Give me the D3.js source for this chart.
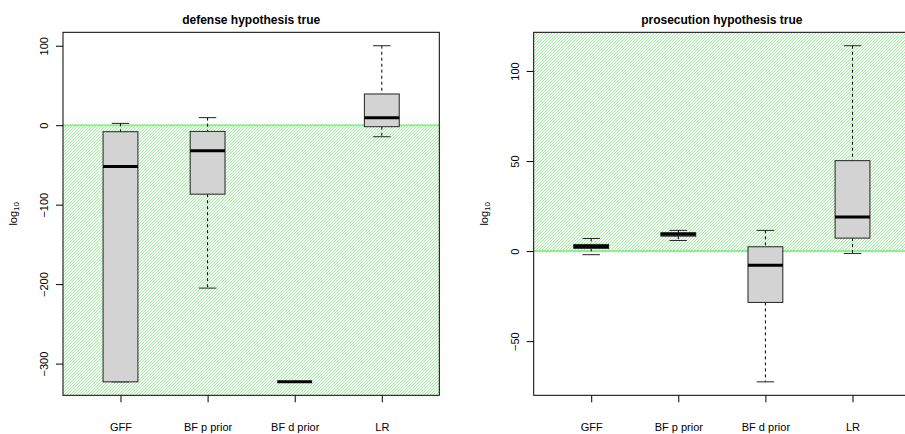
<!DOCTYPE html>
<html>
<head>
<meta charset="utf-8">
<script src="https://cdn.jsdelivr.net/npm/d3@7"></script>
<style>
  html, body { margin: 0; padding: 0; background: #fff; }
  svg { display: block; font-family: "Liberation Sans", Arial, Helvetica, sans-serif; }
</style>
</head>
<body>
<svg id="chart" width="905" height="434"></svg>
<script>
// Categories shared by both panels
const categories = ["GFF", "BF p prior", "BF d prior", "LR"];

// Box statistics (log10 scale) under the defense hypothesis
const defenseLow    = [-323, -205, -323, -14.5];
const defenseQ1     = [-323, -86.8, -323, -1.9];
const defenseMedian = [-52, -32, -323, 9.5];
const defenseQ3     = [-8.2, -7.8, -323, 39.3];
const defenseHigh   = [2.3, 9.5, -323, 100];
const defenseTicks  = [-300, -200, -100, 0, 100];

// Box statistics (log10 scale) under the prosecution hypothesis
const prosecutionLow    = [-2, 5.9, -72.6, -1.3];
const prosecutionQ1     = [1.5, 8.3, -28.5, 7.2];
const prosecutionMedian = [2.6, 9.3, -7.8, 18.9];
const prosecutionQ3     = [3.7, 10.2, 2.4, 50.2];
const prosecutionHigh   = [7, 11.5, 11.5, 114];
const prosecutionTicks  = [-50, 0, 50, 100];

const svg = d3.select("#chart");

// Fine diagonal hatch used to shade the region favouring the true hypothesis
const defs = svg.append("defs");
const pat = defs.append("pattern")
  .attr("id", "hatch")
  .attr("patternUnits", "userSpaceOnUse")
  .attr("width", 3).attr("height", 3);
pat.append("rect").attr("width", 3).attr("height", 3).attr("fill", "#ffffff");
pat.append("path")
  .attr("d", "M-1,1 L1,-1 M0,3 L3,0 M2,4 L4,2")
  .attr("stroke", "#9cee9c")
  .attr("stroke-width", 1);

const plotTop = 32.3, plotBottom = 395.3;

function panel(opts) {
  const { left, right, title, low, q1, med, q3, high, ticks, shadeAbove } = opts;
  const g = svg.append("g");

  const lo = d3.min(low), hi = d3.max(high);
  const pad = (hi - lo) * 0.04;
  const y = d3.scaleLinear().domain([lo - pad, hi + pad]).range([plotBottom, plotTop]);
  const x = d3.scaleLinear().domain([0.34, 4.66]).range([left, right]);

  // clip to plot region
  const clipId = "clip" + Math.round(left);
  defs.append("clipPath").attr("id", clipId)
    .append("rect").attr("x", left).attr("y", plotTop)
    .attr("width", right - left).attr("height", plotBottom - plotTop);

  const plot = g.append("g").attr("clip-path", `url(#${clipId})`);

  // shaded region
  const y0 = y(0);
  plot.append("rect")
    .attr("x", left)
    .attr("y", shadeAbove ? plotTop : y0)
    .attr("width", right - left)
    .attr("height", shadeAbove ? y0 - plotTop : plotBottom - y0)
    .attr("fill", "url(#hatch)");
  plot.append("line")
    .attr("x1", left).attr("x2", right)
    .attr("y1", y0).attr("y2", y0)
    .attr("stroke", "#8cf08c").attr("stroke-width", 2);

  const boxW = x(1.4) - x(1);
  const capW = boxW / 2;

  categories.forEach((c, i) => {
    const cx = x(i + 1);
    // whiskers
    plot.append("line")
      .attr("x1", cx).attr("x2", cx)
      .attr("y1", y(high[i])).attr("y2", y(q3[i]))
      .attr("stroke", "#000").attr("stroke-width", 1)
      .attr("stroke-dasharray", "3,3");
    plot.append("line")
      .attr("x1", cx).attr("x2", cx)
      .attr("y1", y(q1[i])).attr("y2", y(low[i]))
      .attr("stroke", "#000").attr("stroke-width", 1)
      .attr("stroke-dasharray", "3,3");
    // caps
    [high[i], low[i]].forEach(v => {
      plot.append("line")
        .attr("x1", cx - capW / 2).attr("x2", cx + capW / 2)
        .attr("y1", y(v)).attr("y2", y(v))
        .attr("stroke", "#222").attr("stroke-width", 1);
    });
    // box
    plot.append("rect")
      .attr("x", cx - boxW / 2)
      .attr("y", y(q3[i]))
      .attr("width", boxW)
      .attr("height", Math.max(0, y(q1[i]) - y(q3[i])))
      .attr("fill", "#d3d3d3")
      .attr("stroke", "#222").attr("stroke-width", 1);
    // median
    plot.append("line")
      .attr("x1", cx - boxW / 2).attr("x2", cx + boxW / 2)
      .attr("y1", y(med[i])).attr("y2", y(med[i]))
      .attr("stroke", "#000").attr("stroke-width", 3);
  });

  // frame
  g.append("rect")
    .attr("x", left).attr("y", plotTop)
    .attr("width", right - left).attr("height", plotBottom - plotTop)
    .attr("fill", "none").attr("stroke", "#000").attr("stroke-width", 1);

  // y axis
  const ya = g.append("g").attr("transform", `translate(${left},0)`)
    .call(d3.axisLeft(y).tickValues(ticks).tickSize(7).tickFormat(d => d < 0 ? "\u2212" + Math.abs(d) : d));
  ya.select(".domain").remove();
  ya.selectAll(".tick line").attr("stroke", "#000");
  ya.selectAll(".tick text")
    .attr("x", 0).attr("y", 0).attr("dy", null)
    .attr("text-anchor", "middle")
    .attr("transform", "translate(-15,0) rotate(-90)")
    .attr("font-size", 11)
    .attr("font-family", null)
    .attr("fill", "#000");

  // x axis
  const xa = g.append("g").attr("transform", `translate(0,${plotBottom})`)
    .call(d3.axisBottom(x).tickValues([1, 2, 3, 4]).tickSize(7).tickPadding(21)
      .tickFormat(d => categories[d - 1]));
  xa.select(".domain").remove();
  xa.selectAll(".tick line").attr("stroke", "#000");
  xa.selectAll(".tick text")
    .attr("font-size", 11)
    .attr("font-family", null)
    .attr("fill", "#000");

  // title
  g.append("text")
    .attr("x", (left + right) / 2).attr("y", 24)
    .attr("text-anchor", "middle")
    .attr("font-weight", "bold").attr("font-size", 12)
    .text(title);

  // y label: log10
  const lab = g.append("text")
    .attr("transform", `translate(${left - 46},${(plotTop + plotBottom) / 2}) rotate(-90)`)
    .attr("text-anchor", "middle")
    .attr("font-size", 11);
  lab.append("tspan").text("log");
  lab.append("tspan").attr("font-size", 8).attr("dy", 2).text("10");
}

panel({
  left: 63, right: 439.3, title: "defense hypothesis true",
  low: defenseLow, q1: defenseQ1, med: defenseMedian, q3: defenseQ3, high: defenseHigh,
  ticks: defenseTicks, shadeAbove: false
});
panel({
  left: 533.7, right: 910, title: "prosecution hypothesis true",
  low: prosecutionLow, q1: prosecutionQ1, med: prosecutionMedian, q3: prosecutionQ3, high: prosecutionHigh,
  ticks: prosecutionTicks, shadeAbove: true
});
</script>
</body>
</html>
